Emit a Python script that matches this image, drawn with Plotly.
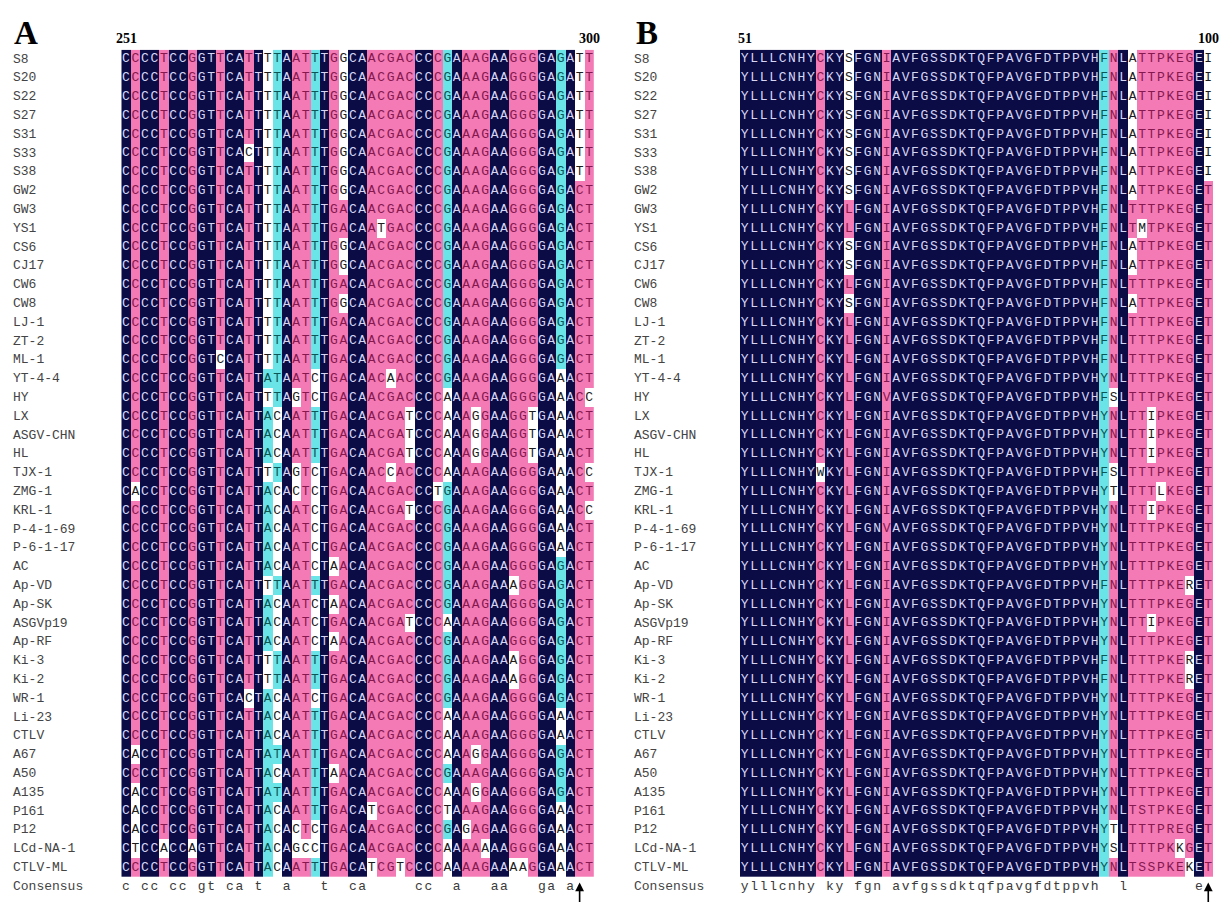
import plotly.graph_objects as go
from collections import Counter

# ---------------- data ----------------
seq_names = ["S8", "S20", "S22", "S27", "S31", "S33", "S38", "GW2", "GW3", "YS1",
             "CS6", "CJ17", "CW6", "CW8", "LJ-1", "ZT-2", "ML-1", "YT-4-4", "HY", "LX",
             "ASGV-CHN", "HL", "TJX-1", "ZMG-1", "KRL-1", "P-4-1-69", "P-6-1-17", "AC",
             "Ap-VD", "Ap-SK", "ASGVp19", "Ap-RF", "Ki-3", "Ki-2", "WR-1", "Li-23", "CTLV",
             "A67", "A50", "A135", "P161", "P12", "LCd-NA-1", "CTLV-ML"]

nt_start, nt_end = 251, 300
aa_start, aa_end = 51, 100

nt_seqs = [
    "CCCCTCCGGTTCATTTTAATTTGGCAACGACCCCGAAAGAAGGGGAGATT",  # S8
    "CCCCTCCGGTTCATTTTAATTTGGCAACGACCCCGAAAGAAGGGGAGATT",  # S20
    "CCCCTCCGGTTCATTTTAATTTGGCAACGACCCCGAAAGAAGGGGAGATT",  # S22
    "CCCCTCCGGTTCATTTTAATTTGGCAACGACCCCGAAAGAAGGGGAGATT",  # S27
    "CCCCTCCGGTTCATTTTAATTTGGCAACGACCCCGAAAGAAGGGGAGATT",  # S31
    "CCCCTCCGGTTCACTTTAATTTGGCAACGACCCCGAAAGAAGGGGAGATT",  # S33
    "CCCCTCCGGTTCATTTTAATTTGGCAACGACCCCGAAAGAAGGGGAGATT",  # S38
    "CCCCTCCGGTTCATTTTAATTTGGCAACGACCCCGAAAGAAGGGGAGACT",  # GW2
    "CCCCTCCGGTTCATTTTAATTTGACAACGACCCCGAAAGAAGGGGAGACT",  # GW3
    "CCCCTCCGGTTCATTTTAATTTGACAATGACCCCGAAAGAAGGGGAGACT",  # YS1
    "CCCCTCCGGTTCATTTTAATTTGGCAACGACCCCGAAAGAAGGGGAGACT",  # CS6
    "CCCCTCCGGTTCATTTTAATTTGGCAACGACCCCGAAAGAAGGGGAGACT",  # CJ17
    "CCCCTCCGGTTCATTTTAATTTGACAACGACCCCGAAAGAAGGGGAGACT",  # CW6
    "CCCCTCCGGTTCATTTTAATTTGGCAACGACCCCGAAAGAAGGGGAGACT",  # CW8
    "CCCCTCCGGTTCATTTTAATTTGACAACGACCCCGAAAGAAGGGGAGACT",  # LJ-1
    "CCCCTCCGGTTCATTTTAATTTGACAACGACCCCGAAAGAAGGGGAGACT",  # ZT-2
    "CCCCTCCGGTCCATTTTAATTTGACAACGACCCCGAAAGAAGGGGAGACT",  # ML-1
    "CCCCTCCGGTTCATTATAATCTGACAACAACCCCGAAAGAAGGGGAAACT",  # YT-4-4
    "CCCCTCCGGTTCATTTTAGTCTGACAACGACCCCAAAAGAAGGGGAAACC",  # HY
    "CCCCTCCGGTTCATTACAATTTGACAACGATCCCAAAGGAAGGTGAAACT",  # LX
    "CCCCTCCGGTTCATTACAATTTGACAACGATCCCAAAGGAAGGTGAAACT",  # ASGV-CHN
    "CCCCTCCGGTTCATTACAATTTGACAACGATCCCAAAGGAAGGTGAAACT",  # HL
    "CCCCTCCGGTTCATTTTAGTCTGACAACCACCCCAAAAGAAGGGGAAACC",  # TJX-1
    "CACCTCCGGTTCATTACACTCTGACAACGACCCTGAAAGAAGGGGAAACT",  # ZMG-1
    "CCCCTCCGGTTCATTACAATCTGACAACGATCCCGAAAGAAGGGGAAACC",  # KRL-1
    "CCCCTCCGGTTCATTACAATCTGACAACGACCCCGAAAGAAGGGGAAACT",  # P-4-1-69
    "CCCCTCCGGTTCATTACAATCTGACAACGACCCCGAAAGAAGGGGAAACT",  # P-6-1-17
    "CCCCTCCGGTTCATTACAATCTAACAACGACCCCGAAAGAAGGGGAGACT",  # AC
    "CCCCTCCGGTTCATTTTAATTTGACAACGACCCCGAAAGAAAGGGAGACT",  # Ap-VD
    "CCCCTCCGGTTCATTACAATCTAACAACGACCCCGAAAGAAGGGGAGACT",  # Ap-SK
    "CCCCTCCGGTTCATTACAATCTGACAACGATCCCAAAAGAAGGGGAGACT",  # ASGVp19
    "CCCCTCCGGTTCATTACAATCTAACAACGACCCCGAAAGAAGGGGAGACT",  # Ap-RF
    "CCCCTCCGGTTCATTTTAATTTGACAACGACCCCGAAAGAAAGGGAGACT",  # Ki-3
    "CCCCTCCGGTTCATTTTAATTTGACAACGACCCCGAAAGAAAGGGAGACT",  # Ki-2
    "CCCCTCCGGTTCACTACAATCTGACAACGACCCCGAAAGAAGGGGAGACT",  # WR-1
    "CCCCTCCGGTTCATTACAATTTGACAACGACCCCAAAAGAAGGGGAAACT",  # Li-23
    "CCCCTCCGGTTCATTACAATTTGACAACGACCCCAAAAGAAGGGGAAACT",  # CTLV
    "CACCTCCGGTTCATTATAATTTGACAACGACCCCAAAGGAAGGGGAGACT",  # A67
    "CCCCTCCGGTTCATTACAATTTAACAACGACCCCGAAAGAAGGGGAGACT",  # A50
    "CACCTCCGGTTCATTATAATTTGACAACGACCCCAAAGGAAGGGGAGACT",  # A135
    "CACCTCCGGTTCATTACAATTTGACATCGACCCCTAAAGAAGGGGAAACT",  # P161
    "CACCTCCGGTTCATTACACTCTGACAACGACCCCGAGAGAAGGGGAAACT",  # P12
    "CTCCACCAGTTCATTACAGCCTGACAACGACCCCAAAAAAAGGGGAAACT",  # LCd-NA-1
    "CCCCTCCGGTTCATTACAATTTGACATCGTCCCCAAAAGAAAAGGAAACT",  # CTLV-ML
]

aa_seqs = [
    "YLLLCNHYCKYSFGNIAVFGSSDKTQFPAVGFDTPPVHFNLATTPKEGEI",  # S8
    "YLLLCNHYCKYSFGNIAVFGSSDKTQFPAVGFDTPPVHFNLATTPKEGEI",  # S20
    "YLLLCNHYCKYSFGNIAVFGSSDKTQFPAVGFDTPPVHFNLATTPKEGEI",  # S22
    "YLLLCNHYCKYSFGNIAVFGSSDKTQFPAVGFDTPPVHFNLATTPKEGEI",  # S27
    "YLLLCNHYCKYSFGNIAVFGSSDKTQFPAVGFDTPPVHFNLATTPKEGEI",  # S31
    "YLLLCNHYCKYSFGNIAVFGSSDKTQFPAVGFDTPPVHFNLATTPKEGEI",  # S33
    "YLLLCNHYCKYSFGNIAVFGSSDKTQFPAVGFDTPPVHFNLATTPKEGEI",  # S38
    "YLLLCNHYCKYSFGNIAVFGSSDKTQFPAVGFDTPPVHFNLATTPKEGET",  # GW2
    "YLLLCNHYCKYLFGNIAVFGSSDKTQFPAVGFDTPPVHFNLTTTPKEGET",  # GW3
    "YLLLCNHYCKYLFGNIAVFGSSDKTQFPAVGFDTPPVHFNLTMTPKEGET",  # YS1
    "YLLLCNHYCKYSFGNIAVFGSSDKTQFPAVGFDTPPVHFNLATTPKEGET",  # CS6
    "YLLLCNHYCKYSFGNIAVFGSSDKTQFPAVGFDTPPVHFNLATTPKEGET",  # CJ17
    "YLLLCNHYCKYLFGNIAVFGSSDKTQFPAVGFDTPPVHFNLTTTPKEGET",  # CW6
    "YLLLCNHYCKYSFGNIAVFGSSDKTQFPAVGFDTPPVHFNLATTPKEGET",  # CW8
    "YLLLCNHYCKYLFGNIAVFGSSDKTQFPAVGFDTPPVHFNLTTTPKEGET",  # LJ-1
    "YLLLCNHYCKYLFGNIAVFGSSDKTQFPAVGFDTPPVHFNLTTTPKEGET",  # ZT-2
    "YLLLCNHYCKYLFGNIAVFGSSDKTQFPAVGFDTPPVHFNLTTTPKEGET",  # ML-1
    "YLLLCNHYCKYLFGNIAVFGSSDKTQFPAVGFDTPPVHYNLTTTPKEGET",  # YT-4-4
    "YLLLCNHYCKYLFGNVAVFGSSDKTQFPAVGFDTPPVHFSLTTTPKEGET",  # HY
    "YLLLCNHYCKYLFGNIAVFGSSDKTQFPAVGFDTPPVHYNLTTIPKEGET",  # LX
    "YLLLCNHYCKYLFGNIAVFGSSDKTQFPAVGFDTPPVHYNLTTIPKEGET",  # ASGV-CHN
    "YLLLCNHYCKYLFGNIAVFGSSDKTQFPAVGFDTPPVHYNLTTIPKEGET",  # HL
    "YLLLCNHYWKYLFGNIAVFGSSDKTQFPAVGFDTPPVHFSLTTTPKEGET",  # TJX-1
    "YLLLCNHYCKYLFGNIAVFGSSDKTQFPAVGFDTPPVHYTLTTTLKEGET",  # ZMG-1
    "YLLLCNHYCKYLFGNIAVFGSSDKTQFPAVGFDTPPVHYNLTTIPKEGET",  # KRL-1
    "YLLLCNHYCKYLFGNVAVFGSSDKTQFPAVGFDTPPVHYNLTTTPKEGET",  # P-4-1-69
    "YLLLCNHYCKYLFGNIAVFGSSDKTQFPAVGFDTPPVHYNLTTTPKEGET",  # P-6-1-17
    "YLLLCNHYCKYLFGNIAVFGSSDKTQFPAVGFDTPPVHYNLTTTPKEGET",  # AC
    "YLLLCNHYCKYLFGNIAVFGSSDKTQFPAVGFDTPPVHFNLTTTPKERET",  # Ap-VD
    "YLLLCNHYCKYLFGNIAVFGSSDKTQFPAVGFDTPPVHYNLTTTPKEGET",  # Ap-SK
    "YLLLCNHYCKYLFGNIAVFGSSDKTQFPAVGFDTPPVHYNLTTIPKEGET",  # ASGVp19
    "YLLLCNHYCKYLFGNIAVFGSSDKTQFPAVGFDTPPVHYNLTTTPKEGET",  # Ap-RF
    "YLLLCNHYCKYLFGNIAVFGSSDKTQFPAVGFDTPPVHFNLTTTPKERET",  # Ki-3
    "YLLLCNHYCKYLFGNIAVFGSSDKTQFPAVGFDTPPVHFNLTTTPKERET",  # Ki-2
    "YLLLCNHYCKYLFGNIAVFGSSDKTQFPAVGFDTPPVHYNLTTTPKEGET",  # WR-1
    "YLLLCNHYCKYLFGNIAVFGSSDKTQFPAVGFDTPPVHYNLTTTPKEGET",  # Li-23
    "YLLLCNHYCKYLFGNIAVFGSSDKTQFPAVGFDTPPVHYNLTTTPKEGET",  # CTLV
    "YLLLCNHYCKYLFGNIAVFGSSDKTQFPAVGFDTPPVHYNLTTTPKEGET",  # A67
    "YLLLCNHYCKYLFGNIAVFGSSDKTQFPAVGFDTPPVHYNLTTTPKEGET",  # A50
    "YLLLCNHYCKYLFGNIAVFGSSDKTQFPAVGFDTPPVHYNLTTTPKEGET",  # A135
    "YLLLCNHYCKYLFGNIAVFGSSDKTQFPAVGFDTPPVHYNLTSTPKEGET",  # P161
    "YLLLCNHYCKYLFGNIAVFGSSDKTQFPAVGFDTPPVHYTLTTTPREGET",  # P12
    "YLLLCNHYCKYLFGNIAVFGSSDKTQFPAVGFDTPPVHYSLTTTPKKGET",  # LCd-NA-1
    "YLLLCNHYCKYLFGNIAVFGSSDKTQFPAVGFDTPPVHYNLTSSPKEKET",  # CTLV-ML
]

aa_similar_groups = ["ILVM", "FYW", "ST", "KR", "DE", "NQ"]
arrow_nt = 299
arrow_aa = 100
panel_titles = ["A", "B"]
consensus_label = "Consensus"

# ---------------- styling / geometry ----------------
W, H = 1228, 902
NAVY, PINK, CYAN = "#0b0b46", "#f47ab5", "#6ae4e6"
TEXT_COL = {3: "#d6d6f4", 2: "#85184f", 1: "#0d5656", 0: "#1c1c1c"}
MONO = "Liberation Mono"
SERIF = "Liberation Serif"
ROW_TOP, ROW_H = 41.7, 18.8
N_SEQ = len(seq_names)
N_ROWS = N_SEQ + 1
PANEL_X = [(113.3, 585.8), (732.0, 1205.0)]
LABEL_X = [3, 624]
TITLE_X = [4, 626]

for s in nt_seqs:
    assert len(s) == nt_end - nt_start + 1, s
for s in aa_seqs:
    assert len(s) == aa_end - aa_start + 1, s


def conservation(seqs, groups):
    sim = {}
    for g in groups:
        for ch in g:
            sim[ch] = g
    n, L = len(seqs), len(seqs[0])
    lev = [[0] * L for _ in seqs]
    cons = []
    for c in range(L):
        cnt = Counter(s[c] for s in seqs)
        m = sorted(cnt.items(), key=lambda kv: (-kv[1], kv[0]))[0][0]
        f = cnt[m] / n
        lvl = 3 if f > 1 - 1e-9 else 2 if f >= 0.75 - 1e-9 else 1 if f >= 0.5 - 1e-9 else 0
        cons.append(m.lower() if lvl == 3 else "")
        for r, s in enumerate(seqs):
            ch = s[c]
            if ch == m or (ch in sim and m in sim[ch]):
                lev[r][c] = lvl
    return lev, cons


colorscale = [[0, "#ffffff"], [0.1667, "#ffffff"], [0.1667, CYAN], [0.5, CYAN],
              [0.5, PINK], [0.8333, PINK], [0.8333, NAVY], [1, NAVY]]

fig = go.Figure()
panels = [(nt_seqs, nt_start, nt_end, [], arrow_nt),
          (aa_seqs, aa_start, aa_end, aa_similar_groups, arrow_aa)]

for p, (seqs, start, end, groups, arrow_pos) in enumerate(panels):
    xa = "x" if p == 0 else "x2"
    lev, cons = conservation(seqs, groups)
    cols = list(range(start, end + 1))
    fig.add_trace(go.Heatmap(z=lev, x=cols, y=list(range(N_SEQ)), zmin=0, zmax=3,
                             colorscale=colorscale, showscale=False, hoverinfo="skip",
                             xaxis=xa, yaxis="y"))
    for lvl in (3, 2, 1, 0):
        xs, ys, ts = [], [], []
        for r, s in enumerate(seqs):
            for c, ch in enumerate(s):
                if lev[r][c] == lvl:
                    xs.append(cols[c]); ys.append(r); ts.append(ch)
        fig.add_trace(go.Scatter(x=xs, y=ys, text=ts, mode="text", hoverinfo="skip",
                                 textfont=dict(family=MONO, size=13, color=TEXT_COL[lvl]),
                                 showlegend=False, xaxis=xa, yaxis="y"))
    cx = [cols[c] for c, t in enumerate(cons) if t]
    ct = [t for t in cons if t]
    fig.add_trace(go.Scatter(x=cx, y=[N_SEQ] * len(cx), text=ct, mode="text", hoverinfo="skip",
                             textfont=dict(family=MONO, size=13, color="#3a3a3a"),
                             showlegend=False, xaxis=xa, yaxis="y"))
    # sequence names
    for r, name in enumerate(seq_names + [consensus_label]):
        fig.add_annotation(x=LABEL_X[p] / W, xref="paper", y=r, yref="y", text=name,
                           xanchor="left", showarrow=False,
                           font=dict(family=MONO, size=13, color="#444444"))
    # panel letter
    fig.add_annotation(x=TITLE_X[p] / W, xref="paper", y=1 - 5 / H, yref="paper",
                       text=panel_titles[p], xanchor="left", yanchor="top", showarrow=False,
                       font=dict(family=SERIF, size=33, color="black", weight="bold"))
    # start / end numbers
    for val in (start, end):
        fig.add_annotation(x=val, xref=xa, y=-0.5, yref="y", text=str(val),
                           yanchor="bottom", showarrow=False, yshift=2,
                           font=dict(family=SERIF, size=14, color="black", weight="bold"))
    # arrow marker
    fig.add_annotation(x=arrow_pos, xref=xa, y=N_SEQ - 0.2, yref="y", text="",
                       showarrow=True, ax=0, ay=30, arrowhead=2, arrowsize=1.1,
                       arrowwidth=1.6, arrowcolor="black", standoff=0, startstandoff=0)

y_bot = 1 - (ROW_TOP + N_ROWS * ROW_H) / H
y_top = 1 - ROW_TOP / H
fig.update_layout(
    width=W, height=H, margin=dict(l=0, r=0, t=0, b=0),
    paper_bgcolor="white", plot_bgcolor="white", hovermode=False, showlegend=False,
    xaxis=dict(domain=[PANEL_X[0][0] / W, PANEL_X[0][1] / W], range=[nt_start - 0.5, nt_end + 0.5],
               visible=False, anchor="y"),
    xaxis2=dict(domain=[PANEL_X[1][0] / W, PANEL_X[1][1] / W], range=[aa_start - 0.5, aa_end + 0.5],
                visible=False, anchor="y"),
    yaxis=dict(domain=[y_bot, y_top], range=[N_ROWS - 0.5, -0.5], visible=False),
)

fig.write_html("out.html")
